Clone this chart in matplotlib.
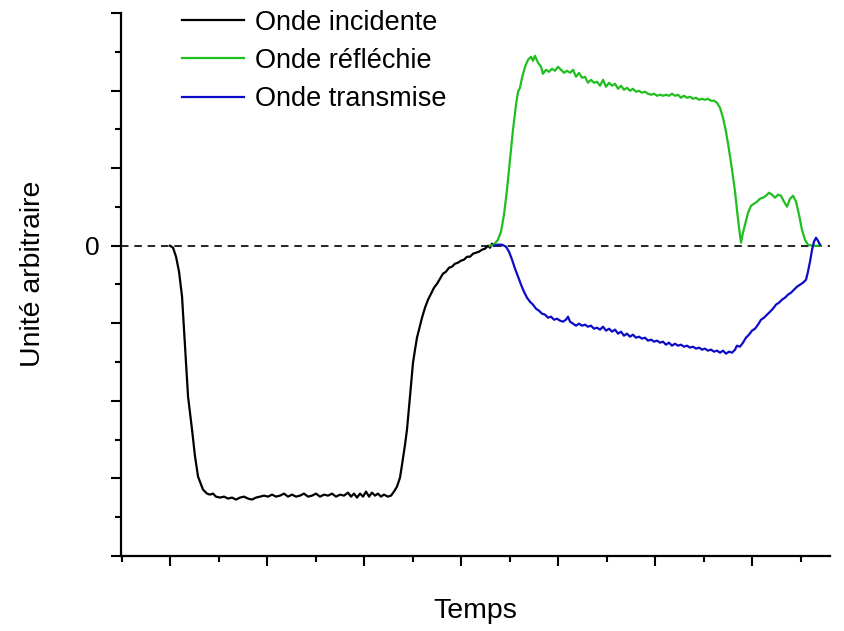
import numpy as np
import matplotlib
matplotlib.use("Agg")
import matplotlib.pyplot as plt
from matplotlib.ticker import MultipleLocator, FixedLocator

plt.rcParams['font.family'] = ['Liberation Sans', 'DejaVu Sans']

# incident wave
t_inc = [1.000, 1.031, 1.062, 1.093, 1.124, 1.155, 1.186, 1.227, 1.258, 1.289,
         1.340, 1.381, 1.412, 1.443, 1.474, 1.515, 1.557, 1.598, 1.639, 1.680,
         1.722, 1.763, 1.804, 1.845, 1.887, 1.928, 1.969, 2.010, 2.052, 2.093,
         2.134, 2.175, 2.216, 2.258, 2.299, 2.340, 2.381, 2.423, 2.464, 2.505,
         2.546, 2.588, 2.629, 2.670, 2.711, 2.753, 2.794, 2.835, 2.866, 2.897,
         2.928, 2.959, 2.990, 3.021, 3.052, 3.082, 3.113, 3.144, 3.175, 3.206,
         3.247, 3.278, 3.309, 3.340, 3.371, 3.392, 3.423, 3.443, 3.474, 3.505,
         3.526, 3.546, 3.567, 3.598, 3.629, 3.660, 3.691, 3.722, 3.753, 3.784,
         3.814, 3.845, 3.876, 3.907, 3.938, 3.969, 4.000, 4.031, 4.062, 4.093,
         4.124, 4.155, 4.186, 4.216, 4.247, 4.278, 4.299, 4.320, 4.340]
y_inc = [0.000, -0.026, -0.142, -0.335, -0.657, -1.302, -1.946, -2.371, -2.719, -2.977,
         -3.144, -3.196, -3.209, -3.196, -3.235, -3.247, -3.235, -3.260, -3.247, -3.273,
         -3.247, -3.235, -3.260, -3.273, -3.247, -3.235, -3.222, -3.235, -3.209, -3.235,
         -3.222, -3.196, -3.235, -3.209, -3.235, -3.222, -3.196, -3.235, -3.222, -3.196,
         -3.235, -3.209, -3.222, -3.196, -3.235, -3.209, -3.222, -3.183, -3.235, -3.196,
         -3.247, -3.196, -3.235, -3.170, -3.235, -3.183, -3.222, -3.196, -3.235, -3.209,
         -3.235, -3.222, -3.170, -3.106, -2.990, -2.822, -2.564, -2.371, -1.946, -1.508,
         -1.340, -1.186, -1.082, -0.928, -0.799, -0.696, -0.619, -0.541, -0.490, -0.425,
         -0.361, -0.335, -0.284, -0.271, -0.232, -0.219, -0.193, -0.180, -0.142, -0.142,
         -0.103, -0.090, -0.077, -0.052, -0.039, 0.000, -0.026, 0.026, 0.000]

# reflected wave
t_ref = [4.299, 4.340, 4.381, 4.412, 4.443, 4.474, 4.505, 4.536, 4.567, 4.588,
         4.608, 4.629, 4.660, 4.691, 4.722, 4.742, 4.763, 4.794, 4.825, 4.845,
         4.876, 4.907, 4.938, 4.969, 5.000, 5.031, 5.062, 5.093, 5.124, 5.155,
         5.186, 5.216, 5.247, 5.278, 5.309, 5.340, 5.371, 5.402, 5.433, 5.464,
         5.495, 5.526, 5.557, 5.588, 5.619, 5.650, 5.680, 5.711, 5.742, 5.773,
         5.804, 5.835, 5.866, 5.897, 5.928, 5.959, 5.990, 6.021, 6.052, 6.082,
         6.113, 6.144, 6.175, 6.206, 6.237, 6.268, 6.299, 6.330, 6.361, 6.392,
         6.423, 6.454, 6.485, 6.515, 6.546, 6.577, 6.608, 6.639, 6.670, 6.701,
         6.732, 6.763, 6.794, 6.825, 6.845, 6.866, 6.887, 6.907, 6.928, 6.959,
         6.990, 7.021, 7.052, 7.082, 7.113, 7.144, 7.175, 7.206, 7.237, 7.268,
         7.299, 7.330, 7.361, 7.392, 7.423, 7.454, 7.485, 7.515, 7.546, 7.577,
         7.619, 7.660, 7.701]
y_ref = [0.000, 0.013, 0.077, 0.180, 0.399, 0.722, 1.108, 1.495, 1.817, 1.985,
         2.036, 2.165, 2.307, 2.397, 2.436, 2.384, 2.448, 2.358, 2.307, 2.216,
         2.268, 2.242, 2.281, 2.255, 2.307, 2.268, 2.229, 2.255, 2.229, 2.268,
         2.178, 2.229, 2.165, 2.178, 2.101, 2.139, 2.101, 2.113, 2.062, 2.139,
         2.049, 2.101, 2.062, 2.088, 2.023, 2.062, 2.010, 2.036, 1.997, 2.023,
         1.985, 1.997, 1.972, 1.985, 1.959, 1.946, 1.959, 1.933, 1.946, 1.933,
         1.946, 1.933, 1.959, 1.933, 1.946, 1.907, 1.933, 1.907, 1.920, 1.894,
         1.907, 1.881, 1.894, 1.881, 1.894, 1.869, 1.869, 1.843, 1.778, 1.649,
         1.469, 1.237, 0.979, 0.696, 0.464, 0.232, 0.039, 0.168, 0.271, 0.425,
         0.515, 0.541, 0.567, 0.606, 0.619, 0.644, 0.683, 0.657, 0.619, 0.657,
         0.644, 0.567, 0.503, 0.606, 0.644, 0.567, 0.399, 0.206, 0.077, 0.013,
         0.000, 0.000, 0.000]

# transmitted wave
t_tra = [4.340, 4.381, 4.423, 4.464, 4.495, 4.526, 4.557, 4.588, 4.619, 4.649,
         4.680, 4.711, 4.742, 4.773, 4.804, 4.835, 4.866, 4.897, 4.928, 4.959,
         4.990, 5.021, 5.052, 5.082, 5.103, 5.124, 5.155, 5.186, 5.216, 5.247,
         5.278, 5.309, 5.340, 5.371, 5.402, 5.433, 5.464, 5.495, 5.526, 5.557,
         5.588, 5.619, 5.650, 5.680, 5.711, 5.742, 5.773, 5.804, 5.835, 5.866,
         5.897, 5.928, 5.959, 5.990, 6.021, 6.052, 6.082, 6.113, 6.144, 6.175,
         6.206, 6.237, 6.268, 6.299, 6.330, 6.361, 6.392, 6.423, 6.454, 6.485,
         6.515, 6.546, 6.577, 6.608, 6.639, 6.670, 6.701, 6.732, 6.763, 6.794,
         6.825, 6.845, 6.876, 6.907, 6.938, 6.969, 7.000, 7.031, 7.062, 7.093,
         7.124, 7.155, 7.186, 7.216, 7.247, 7.278, 7.309, 7.340, 7.371, 7.402,
         7.433, 7.464, 7.495, 7.526, 7.557, 7.577, 7.598, 7.619, 7.639, 7.660,
         7.680, 7.701]
y_tra = [0.000, 0.013, 0.013, -0.013, -0.077, -0.180, -0.296, -0.399, -0.503, -0.593,
         -0.670, -0.722, -0.760, -0.812, -0.838, -0.876, -0.889, -0.928, -0.915, -0.954,
         -0.941, -0.966, -0.979, -0.954, -0.915, -0.979, -1.005, -1.031, -1.005, -1.031,
         -1.018, -1.044, -1.031, -1.070, -1.057, -1.082, -1.044, -1.095, -1.070, -1.108,
         -1.082, -1.134, -1.108, -1.160, -1.134, -1.173, -1.147, -1.186, -1.173, -1.198,
         -1.186, -1.224, -1.211, -1.237, -1.224, -1.250, -1.237, -1.276, -1.250, -1.289,
         -1.263, -1.289, -1.276, -1.302, -1.289, -1.314, -1.302, -1.327, -1.314, -1.340,
         -1.327, -1.353, -1.340, -1.366, -1.353, -1.379, -1.353, -1.392, -1.366, -1.379,
         -1.340, -1.289, -1.302, -1.250, -1.186, -1.147, -1.095, -1.070, -1.018, -0.954,
         -0.928, -0.889, -0.851, -0.812, -0.760, -0.735, -0.696, -0.670, -0.631, -0.606,
         -0.567, -0.528, -0.503, -0.477, -0.438, -0.335, -0.206, -0.052, 0.052, 0.103,
         0.064, 0.013]

labels = ['Onde incidente', 'Onde réfléchie', 'Onde transmise']
colors = ['#000000', '#1fbf1f', '#0b0bc8']

fig = plt.figure(figsize=(8.44, 6.31), dpi=100)
ax = fig.add_axes([0.1434, 0.1189, 0.8400, 0.8605])

ax.axhline(0, color='black', lw=1.2, ls=(0, (4.5, 3.5)), zorder=1)
ax.plot(t_inc, y_inc, color=colors[0], lw=1.6, label=labels[0])
ax.plot(t_ref, y_ref, color=colors[1], lw=1.6, label=labels[1])
ax.plot(t_tra, y_tra, color=colors[2], lw=1.6, label=labels[2])

ax.set_xlim(0.495, 7.804)
ax.set_ylim(-4, 3)

for s in ['top', 'right']:
    ax.spines[s].set_visible(False)
for s in ['left', 'bottom']:
    ax.spines[s].set_linewidth(1.6)

ax.xaxis.set_major_locator(FixedLocator([1, 2, 3, 4, 5, 6, 7]))
ax.xaxis.set_minor_locator(FixedLocator([0.5, 1.5, 2.5, 3.5, 4.5, 5.5, 6.5, 7.5]))
ax.yaxis.set_major_locator(MultipleLocator(1))
ax.yaxis.set_minor_locator(MultipleLocator(0.5))
ax.set_xticklabels([])
ax.set_yticklabels(['' if v != 0 else '0' for v in ax.get_yticks()])
ax.tick_params(which='major', length=7.5, width=1.5, labelsize=19, pad=8)
ax.tick_params(which='minor', length=4, width=1.5)

ax.set_xlabel('Temps', fontsize=20.5, labelpad=15)
ax.set_ylabel('Unité arbitraire', fontsize=20.5)
ax.yaxis.set_label_coords(-0.106, 0.52)

ax.legend(loc='upper left', bbox_to_anchor=(0.086, 1.006), frameon=False,
          fontsize=19.5, handlelength=2.3, handletextpad=0.4, labelspacing=0.45,
          borderpad=0, borderaxespad=0)

fig.savefig('out.png', dpi=100)
